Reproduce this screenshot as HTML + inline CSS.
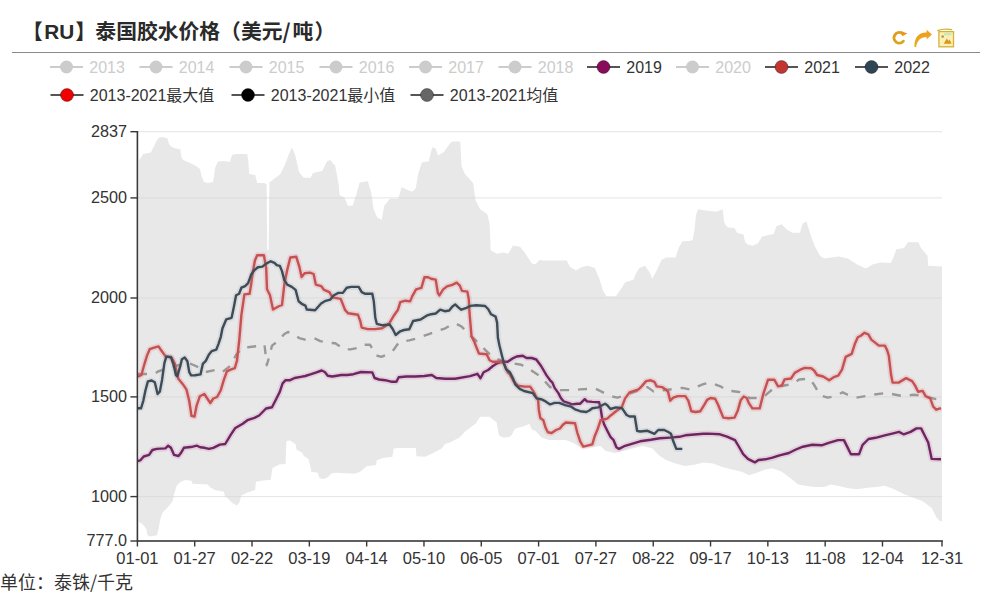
<!DOCTYPE html>
<html><head><meta charset="utf-8"><title>泰国胶水价格</title>
<style>
html,body{margin:0;padding:0;background:#fff;}
body{width:993px;height:598px;overflow:hidden;position:relative;font-family:"Liberation Sans","Noto Sans CJK SC",sans-serif;}
svg{position:absolute;left:0;top:0;}
svg text{font-family:"Liberation Sans","Noto Sans CJK SC",sans-serif;}
</style></head><body>
<svg width="993" height="598" viewBox="0 0 993 598">

<text x="22" y="39" font-size="20.8" font-weight="bold" fill="#2a2a2a">【<tspan dx="1.4">R</tspan>U<tspan dx="1">】</tspan><tspan dx="-0.7">泰国胶水价格（美元</tspan><tspan font-family="&quot;Noto Sans CJK SC&quot;, sans-serif">/</tspan><tspan dx="2">吨</tspan><tspan dx="1">）</tspan></text>
<rect x="12" y="52" width="968" height="1" fill="#8a8a8a"/>

<defs>
<linearGradient id="gA" x1="0" y1="0" x2="0" y2="1"><stop offset="0" stop-color="#f39a1c"/><stop offset="1" stop-color="#e2b021"/></linearGradient>
<linearGradient id="gC" x1="0" y1="0" x2="1" y2="1"><stop offset="0" stop-color="#e39a1a"/><stop offset="1" stop-color="#d7a81c"/></linearGradient>
</defs>
<path d="M901.9,33.2 A5.3,5.3 0 1 0 903.4,41.2" fill="none" stroke="url(#gC)" stroke-width="2.9" stroke-linecap="round"/>
<path d="M901,30.9 L907.4,33.4 L902.2,36.2 Z" fill="#e9961c"/>
<path d="M914.4,46.8 C914.3,38.5 917.5,32.6 926.6,32.5 L926.6,29.8 L931.9,34.6 L926.6,39.4 L926.6,36.9 C920.6,36.9 917.2,40.2 916.1,47.2 Z" fill="url(#gA)"/>
<path d="M937.2,30.6 Q944,28.2 952.2,29.6" fill="none" stroke="#d2b43a" stroke-width="1.4"/>
<rect x="938.9" y="31.6" width="14.6" height="15.2" fill="#fcf0b6" stroke="#d4b23a" stroke-width="1.3"/>
<rect x="944" y="32.8" width="7.4" height="2.6" fill="#cfe6b8"/>
<path d="M943.8,43.8 L946.8,38.6 L948.5,41 L949.6,39.6 L951.6,43.8 Z" fill="#d8961a"/>
<circle cx="942.7" cy="36.6" r="1.3" fill="#b99a3c"/>

<rect x="50" y="66" width="33" height="2" fill="#ccc"/><circle cx="66.5" cy="67" r="6.5" fill="#ccc"/><text x="89.3" y="73.1" font-size="16" fill="#ccc">2013</text>
<rect x="139.5" y="66" width="33" height="2" fill="#ccc"/><circle cx="156.0" cy="67" r="6.5" fill="#ccc"/><text x="178.8" y="73.1" font-size="16" fill="#ccc">2014</text>
<rect x="229.5" y="66" width="33" height="2" fill="#ccc"/><circle cx="246.0" cy="67" r="6.5" fill="#ccc"/><text x="268.8" y="73.1" font-size="16" fill="#ccc">2015</text>
<rect x="319.5" y="66" width="33" height="2" fill="#ccc"/><circle cx="336.0" cy="67" r="6.5" fill="#ccc"/><text x="358.8" y="73.1" font-size="16" fill="#ccc">2016</text>
<rect x="409" y="66" width="33" height="2" fill="#ccc"/><circle cx="425.5" cy="67" r="6.5" fill="#ccc"/><text x="448.3" y="73.1" font-size="16" fill="#ccc">2017</text>
<rect x="498.5" y="66" width="33" height="2" fill="#ccc"/><circle cx="515.0" cy="67" r="6.5" fill="#ccc"/><text x="537.8" y="73.1" font-size="16" fill="#ccc">2018</text>
<rect x="587" y="66" width="33" height="2" fill="#555"/><circle cx="603.5" cy="67" r="6.5" fill="#8a0a5c" stroke="rgba(0,0,0,0.35)" stroke-width="1"/><text x="626.3" y="73.1" font-size="16" fill="#333">2019</text>
<rect x="676" y="66" width="33" height="2" fill="#ccc"/><circle cx="692.5" cy="67" r="6.5" fill="#ccc"/><text x="715.3" y="73.1" font-size="16" fill="#ccc">2020</text>
<rect x="765" y="66" width="33" height="2" fill="#555"/><circle cx="781.5" cy="67" r="6.5" fill="#c23531" stroke="rgba(0,0,0,0.35)" stroke-width="1"/><text x="804.3" y="73.1" font-size="16" fill="#333">2021</text>
<rect x="855" y="66" width="33" height="2" fill="#555"/><circle cx="871.5" cy="67" r="6.5" fill="#2f4554" stroke="rgba(0,0,0,0.35)" stroke-width="1"/><text x="894.3" y="73.1" font-size="16" fill="#333">2022</text>
<rect x="50.5" y="94" width="33" height="2" fill="#555"/><circle cx="67.0" cy="95" r="6.5" fill="#f00000" stroke="rgba(0,0,0,0.35)" stroke-width="1"/><text x="89.8" y="101.1" font-size="16" fill="#333">2013-2021最大值</text>
<rect x="231.5" y="94" width="33" height="2" fill="#555"/><circle cx="248.0" cy="95" r="6.5" fill="#000" stroke="rgba(0,0,0,0.35)" stroke-width="1"/><text x="270.8" y="101.1" font-size="16" fill="#333">2013-2021最小值</text>
<rect x="410.5" y="94" width="33" height="2" fill="#555"/><circle cx="427.0" cy="95" r="6.5" fill="#666" stroke="rgba(0,0,0,0.35)" stroke-width="1"/><text x="449.8" y="101.1" font-size="16" fill="#333">2013-2021均值</text>
<polygon points="138.8,160.5 141.5,157.0 143.0,154.0 151.0,152.5 153.0,148.0 156.0,142.0 159.0,137.5 163.0,137.0 167.5,138.5 169.0,144.0 172.0,147.0 176.0,148.4 180.2,149.2 181.5,157.0 183.0,160.0 190.0,163.0 196.0,166.0 200.0,169.0 201.6,176.0 204.0,182.0 208.0,183.0 213.0,182.0 214.0,177.0 215.0,168.0 218.0,161.6 224.0,161.0 230.0,162.0 232.0,155.0 236.0,154.0 247.2,154.0 248.2,160.0 249.2,174.0 255.2,175.0 256.2,179.0 257.2,183.0 264.3,183.0 266.0,184.0 266.6,184.0 267.2,250.0 268.6,250.0 269.4,182.5 275.5,177.7 280.2,174.2 284.9,164.8 288.4,155.4 291.9,147.2 295.4,155.4 298.9,171.8 303.6,177.7 310.6,177.7 313.0,173.0 322.4,170.7 327.0,161.3 330.5,160.1 334.0,164.8 335.0,164.8 338.5,183.5 339.7,195.3 344.4,197.6 347.9,205.8 352.6,205.8 356.1,195.3 359.6,182.4 367.8,181.2 371.3,192.9 373.6,209.3 377.2,217.5 381.8,219.8 384.2,205.8 390.0,198.8 398.2,198.8 401.7,187.1 406.4,189.4 412.3,191.7 415.8,188.2 418.1,174.2 421.7,162.5 428.7,161.3 432.2,147.2 435.7,148.4 438.0,155.4 443.9,151.9 449.8,143.7 452.1,141.4 460.3,141.4 461.5,166.0 465.0,174.2 469.7,178.9 473.2,183.5 475.5,199.9 480.2,209.3 487.2,214.0 489.6,223.4 490.7,250.3 496.6,253.8 503.6,252.6 508.3,253.8 513.0,245.6 520.0,246.8 524.7,252.6 531.7,263.2 535.0,264.6 539.7,259.9 544.4,260.4 566.6,260.4 570.1,267.0 576.0,270.5 581.8,267.0 587.7,265.8 594.7,268.1 599.4,278.7 602.9,290.4 606.4,296.2 615.8,296.2 621.7,288.0 625.2,282.2 633.4,279.8 635.7,274.0 639.2,268.1 645.0,265.8 649.8,272.8 652.1,278.7 655.6,272.8 661.5,259.9 666.1,257.6 675.5,257.6 679.0,247.1 682.5,241.2 689.6,241.0 692.6,240.0 694.5,230.0 695.9,215.7 697.9,209.2 705.7,210.5 716.2,211.8 722.7,209.2 724.0,220.9 725.3,224.9 728.0,227.5 734.5,228.1 737.1,232.7 743.7,234.7 745.0,241.9 747.6,244.5 752.8,245.8 758.1,243.2 762.0,236.6 773.8,234.0 776.4,226.2 781.6,224.2 786.9,229.5 792.1,232.7 800.0,232.7 802.6,223.6 806.5,221.6 809.1,230.1 811.7,238.0 815.0,246.8 820.2,256.0 824.2,258.6 838.6,256.6 847.7,258.6 858.2,265.1 866.0,268.4 872.6,264.5 880.4,262.5 890.9,263.1 893.5,257.3 896.2,249.4 904.0,248.1 908.0,242.2 918.4,242.2 921.0,248.1 927.6,256.0 928.2,265.8 942.0,266.4 942.0,521.5 939.9,520.9 936.4,517.4 931.7,508.0 922.3,501.0 912.9,497.5 903.6,494.0 894.2,489.3 884.8,485.8 875.5,487.0 866.1,488.1 856.7,489.3 847.4,488.1 838.0,485.8 831.0,484.6 824.0,487.0 814.6,487.0 805.2,485.8 798.2,484.6 791.2,478.8 781.8,471.7 772.5,468.2 765.4,469.4 756.1,472.9 749.0,475.2 742.0,471.7 731.7,469.4 722.4,467.1 713.0,463.5 703.6,462.4 694.3,464.7 684.9,465.9 675.5,463.5 666.1,460.0 659.1,455.4 652.1,448.3 642.7,446.0 633.4,448.3 624.0,450.7 614.6,453.0 605.3,450.7 600.6,446.0 591.2,447.2 581.8,448.3 572.5,442.5 565.4,440.1 549.0,440.1 542.0,437.8 535.0,430.8 531.7,429.6 529.4,423.7 524.7,426.1 515.3,428.4 510.6,436.6 503.6,437.8 498.9,435.4 496.6,422.6 489.6,416.7 480.2,416.7 475.5,423.7 466.1,430.8 459.1,437.8 449.8,442.5 445.0,443.9 441.6,448.6 431.1,453.9 425.2,456.8 416.4,456.2 415.9,448.0 398.3,448.0 393.6,448.6 392.5,456.8 383.1,458.0 376.7,460.3 376.1,465.0 366.7,466.2 359.7,472.0 355.4,473.6 351.7,473.6 335.2,472.7 331.5,473.6 327.8,477.3 324.1,479.1 319.5,478.2 317.7,472.7 311.3,471.8 310.3,466.3 308.5,458.9 303.9,456.1 302.0,452.5 296.6,449.7 295.6,444.2 290.0,440.5 286.4,441.0 285.5,464.0 282.5,464.2 279.9,464.2 276.2,466.0 272.5,467.9 270.7,479.8 261.5,480.7 256.0,481.7 255.1,489.9 246.8,492.7 241.3,495.5 239.4,502.8 236.7,505.6 232.1,502.8 224.7,495.5 223.8,491.8 215.0,490.1 210.2,487.6 207.7,484.4 192.7,483.8 191.4,480.7 185.2,480.0 180.1,481.9 176.4,486.3 173.9,495.1 172.6,501.3 167.6,507.6 162.6,512.6 160.0,520.2 158.8,527.7 157.0,535.2 150.0,536.5 147.5,535.2 146.3,528.9 142.5,523.9 140.0,522.7 138.8,521.0" fill="#e8e8e8"/>
<rect x="137.4" y="131.20" width="804.6" height="1" fill="rgba(212,212,212,0.62)"/>
<rect x="137.4" y="197.40" width="804.6" height="1" fill="rgba(212,212,212,0.62)"/>
<rect x="137.4" y="297.50" width="804.6" height="1" fill="rgba(212,212,212,0.62)"/>
<rect x="137.4" y="396.40" width="804.6" height="1" fill="rgba(212,212,212,0.62)"/>
<rect x="137.4" y="496.10" width="804.6" height="1" fill="rgba(212,212,212,0.62)"/>
<polyline points="138.0,374.0 150.0,374.0 154.6,373.7 158.0,371.5 165.0,369.0 175.0,366.0 189.0,363.0 200.0,368.0 205.8,372.0 215.4,370.0 221.8,372.5 230.0,366.0 236.0,355.0 242.3,348.0 249.8,347.0 259.0,346.0 264.5,344.8 266.8,365.2 269.0,357.6 272.0,345.6 278.1,341.1 284.1,334.3 287.9,332.0 292.4,333.6 299.2,338.1 305.2,339.6 314.2,338.1 320.2,341.1 327.8,342.6 335.3,343.3 344.3,349.4 350.4,349.4 357.9,347.9 362.5,344.8 370.1,344.8 376.1,355.4 381.4,356.9 385.1,355.4 393.4,350.1 398.7,342.6 409.2,340.3 415.2,338.8 430.3,333.6 445.4,328.3 451.4,324.5 455.2,323.3 461.3,326.3 465.8,330.8 468.8,333.8 476.0,340.7 492.6,357.2 505.0,362.0 521.2,364.8 527.2,367.8 540.8,376.8 550.1,387.1 559.2,390.1 574.2,390.1 580.2,389.4 595.3,388.6 610.4,396.1 617.5,397.7 647.6,387.1 653.7,391.6 682.3,387.9 689.8,389.4 703.4,384.1 710.0,382.6 721.1,386.7 727.1,390.5 739.2,392.0 743.7,394.2 749.7,398.0 757.2,398.0 763.3,397.2 775.0,387.0 792.8,384.0 799.0,379.5 809.6,378.7 814.1,384.8 820.1,395.3 827.7,397.6 835.2,396.1 842.7,392.3 847.2,394.5 856.3,397.6 865.3,396.1 874.3,394.5 886.4,393.0 895.6,394.7 903.1,396.2 913.6,394.7 924.1,396.2 936.2,399.2 941.0,400.0" fill="none" stroke="#999" stroke-width="2.4" stroke-dasharray="9 9" stroke-linejoin="round"/>
<polyline points="137.3,461.0 140.4,460.3 143.7,456.5 149.1,454.9 152.4,450.0 156.7,448.9 165.4,448.4 168.2,445.7 170.9,447.8 174.1,454.9 178.5,456.0 180.7,453.3 183.9,447.8 192.6,446.7 197.0,445.7 200.2,447.3 204.6,447.8 208.9,448.9 213.3,447.8 219.8,444.6 225.2,444.0 230.7,434.8 235.0,428.3 242.7,423.7 247.4,420.2 254.4,417.9 259.1,415.5 262.6,412.0 266.0,408.5 272.0,407.3 276.6,398.3 279.6,392.3 282.6,383.3 285.6,380.2 290.1,380.2 294.6,378.0 300.7,376.9 305.2,376.0 311.2,374.2 315.7,372.7 321.7,370.5 324.8,372.0 327.8,375.7 332.3,376.5 336.8,375.7 341.3,375.0 347.3,375.0 353.4,374.2 361.0,372.0 372.3,372.4 374.6,378.0 379.1,379.5 385.1,380.2 391.1,381.7 396.4,381.7 398.7,377.2 406.2,376.5 415.2,376.5 424.3,376.0 431.8,375.0 436.3,378.0 445.4,378.7 455.0,378.7 470.0,376.1 477.5,373.8 480.5,378.3 483.6,372.3 488.1,370.0 492.6,366.3 497.1,363.3 501.6,361.7 507.7,361.7 512.2,358.7 516.7,356.5 522.7,355.7 526.5,358.0 531.7,358.0 536.3,359.5 541.1,366.0 546.4,375.1 550.1,380.3 552.4,382.6 554.6,387.9 558.4,393.1 560.7,397.7 563.7,401.4 568.2,402.9 572.0,404.4 577.2,403.7 580.2,403.7 582.5,401.4 584.8,399.2 587.0,401.4 592.3,401.9 599.1,402.2 600.6,408.2 602.1,418.0 604.3,424.8 607.3,430.8 610.4,436.8 613.4,439.8 616.4,447.3 619.0,448.9 625.1,445.8 632.6,443.6 640.1,441.3 650.7,439.8 659.7,438.3 670.2,437.6 679.3,436.8 685.3,435.3 694.3,434.5 703.4,433.8 708.3,433.6 720.0,434.3 727.0,436.6 735.0,440.1 738.5,446.0 743.2,454.2 747.9,458.9 754.9,462.4 758.4,460.0 765.4,459.3 772.5,457.7 779.5,455.3 788.9,453.0 795.9,449.5 802.9,446.7 812.3,444.8 821.6,445.3 828.7,442.9 838.0,440.1 843.9,440.1 847.4,447.1 850.9,454.2 859.1,454.2 862.6,444.8 868.5,439.0 875.5,437.8 884.8,435.4 894.2,433.1 898.9,431.9 903.6,434.3 910.6,431.9 916.5,428.4 921.1,428.4 925.8,437.8 928.2,442.5 931.7,458.9 941.0,459.3" fill="none" stroke="rgba(200,80,160,0.16)" stroke-width="6" stroke-linejoin="round"/>
<polyline points="137.3,461.0 140.4,460.3 143.7,456.5 149.1,454.9 152.4,450.0 156.7,448.9 165.4,448.4 168.2,445.7 170.9,447.8 174.1,454.9 178.5,456.0 180.7,453.3 183.9,447.8 192.6,446.7 197.0,445.7 200.2,447.3 204.6,447.8 208.9,448.9 213.3,447.8 219.8,444.6 225.2,444.0 230.7,434.8 235.0,428.3 242.7,423.7 247.4,420.2 254.4,417.9 259.1,415.5 262.6,412.0 266.0,408.5 272.0,407.3 276.6,398.3 279.6,392.3 282.6,383.3 285.6,380.2 290.1,380.2 294.6,378.0 300.7,376.9 305.2,376.0 311.2,374.2 315.7,372.7 321.7,370.5 324.8,372.0 327.8,375.7 332.3,376.5 336.8,375.7 341.3,375.0 347.3,375.0 353.4,374.2 361.0,372.0 372.3,372.4 374.6,378.0 379.1,379.5 385.1,380.2 391.1,381.7 396.4,381.7 398.7,377.2 406.2,376.5 415.2,376.5 424.3,376.0 431.8,375.0 436.3,378.0 445.4,378.7 455.0,378.7 470.0,376.1 477.5,373.8 480.5,378.3 483.6,372.3 488.1,370.0 492.6,366.3 497.1,363.3 501.6,361.7 507.7,361.7 512.2,358.7 516.7,356.5 522.7,355.7 526.5,358.0 531.7,358.0 536.3,359.5 541.1,366.0 546.4,375.1 550.1,380.3 552.4,382.6 554.6,387.9 558.4,393.1 560.7,397.7 563.7,401.4 568.2,402.9 572.0,404.4 577.2,403.7 580.2,403.7 582.5,401.4 584.8,399.2 587.0,401.4 592.3,401.9 599.1,402.2 600.6,408.2 602.1,418.0 604.3,424.8 607.3,430.8 610.4,436.8 613.4,439.8 616.4,447.3 619.0,448.9 625.1,445.8 632.6,443.6 640.1,441.3 650.7,439.8 659.7,438.3 670.2,437.6 679.3,436.8 685.3,435.3 694.3,434.5 703.4,433.8 708.3,433.6 720.0,434.3 727.0,436.6 735.0,440.1 738.5,446.0 743.2,454.2 747.9,458.9 754.9,462.4 758.4,460.0 765.4,459.3 772.5,457.7 779.5,455.3 788.9,453.0 795.9,449.5 802.9,446.7 812.3,444.8 821.6,445.3 828.7,442.9 838.0,440.1 843.9,440.1 847.4,447.1 850.9,454.2 859.1,454.2 862.6,444.8 868.5,439.0 875.5,437.8 884.8,435.4 894.2,433.1 898.9,431.9 903.6,434.3 910.6,431.9 916.5,428.4 921.1,428.4 925.8,437.8 928.2,442.5 931.7,458.9 941.0,459.3" fill="none" stroke="#6e2660" stroke-width="2.4" stroke-linejoin="round"/>
<polyline points="138.0,376.7 141.4,375.0 144.2,364.8 147.0,355.6 149.7,349.2 153.4,347.8 158.5,346.4 161.7,351.0 165.4,356.1 171.8,357.9 174.6,363.0 178.2,378.6 182.8,384.2 186.5,389.7 189.2,400.8 191.5,415.8 194.5,416.6 196.7,405.3 199.8,396.3 204.3,394.0 207.3,398.5 210.3,403.0 213.3,398.5 217.1,397.0 220.8,390.2 223.9,379.7 226.9,371.4 229.9,369.9 234.8,368.2 237.0,360.7 239.3,339.6 241.4,314.8 244.4,294.4 249.6,293.7 251.1,284.6 252.7,272.6 254.9,260.5 257.2,255.3 263.9,255.3 266.2,268.1 267.0,289.2 270.0,295.2 273.0,309.5 278.3,306.5 282.0,305.0 284.3,284.6 287.3,269.6 290.3,257.5 296.3,256.8 299.3,266.6 301.6,277.1 304.6,273.3 309.9,272.6 313.6,274.0 315.8,284.6 321.1,286.1 324.1,289.9 329.4,292.2 332.4,297.4 340.7,298.9 345.2,310.2 348.2,313.3 358.0,314.8 360.2,320.8 361.7,327.6 367.8,329.1 375.3,329.1 382.1,328.3 388.9,323.8 393.4,316.3 398.0,309.7 400.3,302.2 405.5,300.7 410.1,301.4 412.3,296.1 416.1,289.4 421.4,287.9 424.4,277.3 428.1,277.3 431.1,278.8 435.7,279.6 437.9,293.1 439.4,295.4 443.2,289.4 447.0,286.4 452.2,284.8 456.7,282.6 459.8,285.6 462.0,290.9 467.3,291.6 468.8,299.2 469.5,312.7 471.5,336.1 474.5,342.2 476.8,348.2 479.0,353.5 486.6,354.2 489.6,360.2 492.6,361.7 500.1,361.7 503.9,363.3 507.7,372.3 509.9,374.5 513.7,381.3 518.2,385.8 524.2,386.6 530.2,386.6 533.6,391.6 535.8,396.1 538.1,399.9 538.8,409.7 540.3,418.0 543.3,420.2 545.6,427.8 547.9,432.3 551.6,433.0 556.1,430.0 559.9,428.5 562.9,424.8 565.9,422.5 575.0,423.3 577.2,432.3 580.2,441.3 583.3,446.6 592.3,444.3 594.5,436.8 597.6,429.3 600.6,420.2 603.6,419.5 607.3,418.7 610.4,415.7 616.0,411.2 622.0,406.7 625.1,398.4 629.6,392.4 634.1,390.9 638.6,389.4 641.6,386.4 646.1,381.1 650.7,380.3 654.4,381.8 656.7,386.4 662.0,387.1 665.7,389.4 668.0,391.6 670.2,400.7 673.3,397.7 677.8,396.1 685.3,396.1 688.3,400.7 691.3,411.2 695.8,412.0 700.4,411.2 704.1,405.2 707.1,399.9 710.5,398.0 715.1,398.7 718.1,404.8 721.1,412.3 723.3,417.6 728.6,418.3 734.6,417.6 737.7,410.8 740.7,400.2 743.7,396.5 746.7,398.0 748.7,402.8 752.4,408.4 759.7,408.4 763.4,393.6 768.0,379.8 774.4,379.8 778.1,386.3 781.8,385.4 784.6,379.4 791.0,378.5 794.7,372.9 800.2,369.7 804.8,367.9 811.2,368.3 814.1,370.5 817.1,375.0 823.1,376.5 829.2,380.2 833.7,377.2 838.2,375.7 842.0,369.7 845.7,356.9 848.7,355.4 851.7,353.9 854.8,344.1 857.8,337.3 860.8,335.8 864.5,332.8 868.3,334.3 871.3,339.6 875.1,342.6 878.9,345.6 884.9,345.6 887.1,350.1 888.8,355.6 891.1,375.1 892.6,382.6 898.6,382.6 906.1,378.1 912.1,381.1 915.1,385.6 918.1,391.7 922.6,390.9 925.6,396.2 930.2,398.4 933.2,406.7 936.2,409.7 941.0,408.2" fill="none" stroke="rgba(230,90,120,0.16)" stroke-width="6" stroke-linejoin="round"/>
<polyline points="138.0,376.7 141.4,375.0 144.2,364.8 147.0,355.6 149.7,349.2 153.4,347.8 158.5,346.4 161.7,351.0 165.4,356.1 171.8,357.9 174.6,363.0 178.2,378.6 182.8,384.2 186.5,389.7 189.2,400.8 191.5,415.8 194.5,416.6 196.7,405.3 199.8,396.3 204.3,394.0 207.3,398.5 210.3,403.0 213.3,398.5 217.1,397.0 220.8,390.2 223.9,379.7 226.9,371.4 229.9,369.9 234.8,368.2 237.0,360.7 239.3,339.6 241.4,314.8 244.4,294.4 249.6,293.7 251.1,284.6 252.7,272.6 254.9,260.5 257.2,255.3 263.9,255.3 266.2,268.1 267.0,289.2 270.0,295.2 273.0,309.5 278.3,306.5 282.0,305.0 284.3,284.6 287.3,269.6 290.3,257.5 296.3,256.8 299.3,266.6 301.6,277.1 304.6,273.3 309.9,272.6 313.6,274.0 315.8,284.6 321.1,286.1 324.1,289.9 329.4,292.2 332.4,297.4 340.7,298.9 345.2,310.2 348.2,313.3 358.0,314.8 360.2,320.8 361.7,327.6 367.8,329.1 375.3,329.1 382.1,328.3 388.9,323.8 393.4,316.3 398.0,309.7 400.3,302.2 405.5,300.7 410.1,301.4 412.3,296.1 416.1,289.4 421.4,287.9 424.4,277.3 428.1,277.3 431.1,278.8 435.7,279.6 437.9,293.1 439.4,295.4 443.2,289.4 447.0,286.4 452.2,284.8 456.7,282.6 459.8,285.6 462.0,290.9 467.3,291.6 468.8,299.2 469.5,312.7 471.5,336.1 474.5,342.2 476.8,348.2 479.0,353.5 486.6,354.2 489.6,360.2 492.6,361.7 500.1,361.7 503.9,363.3 507.7,372.3 509.9,374.5 513.7,381.3 518.2,385.8 524.2,386.6 530.2,386.6 533.6,391.6 535.8,396.1 538.1,399.9 538.8,409.7 540.3,418.0 543.3,420.2 545.6,427.8 547.9,432.3 551.6,433.0 556.1,430.0 559.9,428.5 562.9,424.8 565.9,422.5 575.0,423.3 577.2,432.3 580.2,441.3 583.3,446.6 592.3,444.3 594.5,436.8 597.6,429.3 600.6,420.2 603.6,419.5 607.3,418.7 610.4,415.7 616.0,411.2 622.0,406.7 625.1,398.4 629.6,392.4 634.1,390.9 638.6,389.4 641.6,386.4 646.1,381.1 650.7,380.3 654.4,381.8 656.7,386.4 662.0,387.1 665.7,389.4 668.0,391.6 670.2,400.7 673.3,397.7 677.8,396.1 685.3,396.1 688.3,400.7 691.3,411.2 695.8,412.0 700.4,411.2 704.1,405.2 707.1,399.9 710.5,398.0 715.1,398.7 718.1,404.8 721.1,412.3 723.3,417.6 728.6,418.3 734.6,417.6 737.7,410.8 740.7,400.2 743.7,396.5 746.7,398.0 748.7,402.8 752.4,408.4 759.7,408.4 763.4,393.6 768.0,379.8 774.4,379.8 778.1,386.3 781.8,385.4 784.6,379.4 791.0,378.5 794.7,372.9 800.2,369.7 804.8,367.9 811.2,368.3 814.1,370.5 817.1,375.0 823.1,376.5 829.2,380.2 833.7,377.2 838.2,375.7 842.0,369.7 845.7,356.9 848.7,355.4 851.7,353.9 854.8,344.1 857.8,337.3 860.8,335.8 864.5,332.8 868.3,334.3 871.3,339.6 875.1,342.6 878.9,345.6 884.9,345.6 887.1,350.1 888.8,355.6 891.1,375.1 892.6,382.6 898.6,382.6 906.1,378.1 912.1,381.1 915.1,385.6 918.1,391.7 922.6,390.9 925.6,396.2 930.2,398.4 933.2,406.7 936.2,409.7 941.0,408.2" fill="none" stroke="#c6524f" stroke-width="2.4" stroke-linejoin="round"/>
<polyline points="137.3,408.3 141.0,408.3 143.3,400.8 145.5,390.2 147.9,381.4 151.6,380.5 154.8,382.3 157.6,394.0 159.8,391.7 162.1,379.7 164.4,363.1 166.3,356.6 170.9,357.0 173.6,364.8 175.9,375.0 177.3,376.3 180.1,366.7 181.9,359.3 184.7,357.5 187.4,361.2 189.3,372.2 191.1,375.4 195.2,375.2 200.5,374.4 202.8,363.9 205.8,360.9 208.8,354.8 211.8,351.1 216.3,349.6 218.6,343.6 220.8,336.8 222.5,328.3 226.3,319.3 231.6,317.8 233.8,307.2 236.1,295.2 239.1,293.7 241.4,287.7 245.1,286.1 248.1,283.1 251.1,274.8 254.2,270.3 257.9,267.3 262.4,266.6 266.2,263.6 270.7,261.3 274.5,262.8 276.7,265.1 279.8,265.8 282.0,271.1 284.3,280.1 287.3,284.6 291.8,286.9 295.6,289.9 298.6,301.2 302.3,304.2 305.4,305.7 306.8,309.5 315.1,310.2 321.1,303.5 324.8,301.2 330.1,299.7 333.9,295.2 338.4,292.9 342.9,292.9 346.7,287.7 351.2,286.9 358.7,286.9 361.7,292.2 364.8,293.7 372.3,293.7 373.8,301.2 375.3,317.8 376.8,323.8 382.8,325.3 389.6,324.5 392.7,329.0 395.7,335.0 400.2,331.3 404.0,330.0 409.3,329.3 413.1,321.0 420.6,319.5 426.6,315.7 431.1,314.2 435.7,313.5 440.2,309.7 444.7,311.2 449.2,310.5 452.2,306.7 455.2,304.4 458.3,307.4 461.3,309.7 465.8,308.2 470.3,305.9 476.3,305.2 485.1,306.0 488.1,309.0 491.1,314.3 495.6,316.6 497.1,322.6 497.9,337.7 499.4,345.2 501.6,354.2 503.9,363.3 506.1,369.3 509.9,372.3 512.9,378.3 515.2,384.3 519.7,388.9 524.0,391.0 532.8,393.1 536.6,398.4 541.1,399.2 545.6,401.4 550.1,404.4 554.6,402.9 559.2,402.9 565.2,405.2 571.2,406.7 575.7,409.7 580.2,411.2 586.3,412.0 589.3,410.5 592.3,408.2 598.3,407.4 602.1,405.2 605.1,403.7 607.3,405.2 610.4,409.0 616.0,407.4 622.0,408.2 626.6,415.0 629.6,416.5 634.8,416.5 637.1,430.8 640.1,431.5 647.6,430.8 654.4,433.8 658.2,430.0 664.2,430.0 668.7,432.3 671.0,433.8 673.3,441.3 676.3,448.9 682.3,448.9" fill="none" stroke="rgba(120,140,170,0.14)" stroke-width="6" stroke-linejoin="round"/>
<polyline points="137.3,408.3 141.0,408.3 143.3,400.8 145.5,390.2 147.9,381.4 151.6,380.5 154.8,382.3 157.6,394.0 159.8,391.7 162.1,379.7 164.4,363.1 166.3,356.6 170.9,357.0 173.6,364.8 175.9,375.0 177.3,376.3 180.1,366.7 181.9,359.3 184.7,357.5 187.4,361.2 189.3,372.2 191.1,375.4 195.2,375.2 200.5,374.4 202.8,363.9 205.8,360.9 208.8,354.8 211.8,351.1 216.3,349.6 218.6,343.6 220.8,336.8 222.5,328.3 226.3,319.3 231.6,317.8 233.8,307.2 236.1,295.2 239.1,293.7 241.4,287.7 245.1,286.1 248.1,283.1 251.1,274.8 254.2,270.3 257.9,267.3 262.4,266.6 266.2,263.6 270.7,261.3 274.5,262.8 276.7,265.1 279.8,265.8 282.0,271.1 284.3,280.1 287.3,284.6 291.8,286.9 295.6,289.9 298.6,301.2 302.3,304.2 305.4,305.7 306.8,309.5 315.1,310.2 321.1,303.5 324.8,301.2 330.1,299.7 333.9,295.2 338.4,292.9 342.9,292.9 346.7,287.7 351.2,286.9 358.7,286.9 361.7,292.2 364.8,293.7 372.3,293.7 373.8,301.2 375.3,317.8 376.8,323.8 382.8,325.3 389.6,324.5 392.7,329.0 395.7,335.0 400.2,331.3 404.0,330.0 409.3,329.3 413.1,321.0 420.6,319.5 426.6,315.7 431.1,314.2 435.7,313.5 440.2,309.7 444.7,311.2 449.2,310.5 452.2,306.7 455.2,304.4 458.3,307.4 461.3,309.7 465.8,308.2 470.3,305.9 476.3,305.2 485.1,306.0 488.1,309.0 491.1,314.3 495.6,316.6 497.1,322.6 497.9,337.7 499.4,345.2 501.6,354.2 503.9,363.3 506.1,369.3 509.9,372.3 512.9,378.3 515.2,384.3 519.7,388.9 524.0,391.0 532.8,393.1 536.6,398.4 541.1,399.2 545.6,401.4 550.1,404.4 554.6,402.9 559.2,402.9 565.2,405.2 571.2,406.7 575.7,409.7 580.2,411.2 586.3,412.0 589.3,410.5 592.3,408.2 598.3,407.4 602.1,405.2 605.1,403.7 607.3,405.2 610.4,409.0 616.0,407.4 622.0,408.2 626.6,415.0 629.6,416.5 634.8,416.5 637.1,430.8 640.1,431.5 647.6,430.8 654.4,433.8 658.2,430.0 664.2,430.0 668.7,432.3 671.0,433.8 673.3,441.3 676.3,448.9 682.3,448.9" fill="none" stroke="#3f4c55" stroke-width="2.4" stroke-linejoin="round"/>
<rect x="136.6" y="131" width="1.6" height="410.8" fill="#383838"/>
<rect x="137.4" y="540.2" width="805.4" height="1.6" fill="#383838"/>
<rect x="130.4" y="131.00" width="7" height="1.4" fill="#383838"/>
<text x="127" y="137.00" font-size="16.2" fill="#333" text-anchor="end">2837</text>
<rect x="130.4" y="197.20" width="7" height="1.4" fill="#383838"/>
<text x="127" y="203.20" font-size="16.2" fill="#333" text-anchor="end">2500</text>
<rect x="130.4" y="297.30" width="7" height="1.4" fill="#383838"/>
<text x="127" y="303.30" font-size="16.2" fill="#333" text-anchor="end">2000</text>
<rect x="130.4" y="396.20" width="7" height="1.4" fill="#383838"/>
<text x="127" y="402.20" font-size="16.2" fill="#333" text-anchor="end">1500</text>
<rect x="130.4" y="495.90" width="7" height="1.4" fill="#383838"/>
<text x="127" y="501.90" font-size="16.2" fill="#333" text-anchor="end">1000</text>
<rect x="130.4" y="540.30" width="7" height="1.4" fill="#383838"/>
<text x="127" y="546.30" font-size="16.2" fill="#333" text-anchor="end">777.0</text>
<rect x="136.70" y="541.0" width="1.4" height="5.5" fill="#383838"/>
<text x="137.40" y="564" font-size="16.5" fill="#333" text-anchor="middle">01-01</text>
<rect x="194.01" y="541.0" width="1.4" height="5.5" fill="#383838"/>
<text x="194.71" y="564" font-size="16.5" fill="#333" text-anchor="middle">01-27</text>
<rect x="251.33" y="541.0" width="1.4" height="5.5" fill="#383838"/>
<text x="252.03" y="564" font-size="16.5" fill="#333" text-anchor="middle">02-22</text>
<rect x="308.64" y="541.0" width="1.4" height="5.5" fill="#383838"/>
<text x="309.34" y="564" font-size="16.5" fill="#333" text-anchor="middle">03-19</text>
<rect x="365.96" y="541.0" width="1.4" height="5.5" fill="#383838"/>
<text x="366.66" y="564" font-size="16.5" fill="#333" text-anchor="middle">04-14</text>
<rect x="423.27" y="541.0" width="1.4" height="5.5" fill="#383838"/>
<text x="423.97" y="564" font-size="16.5" fill="#333" text-anchor="middle">05-10</text>
<rect x="480.58" y="541.0" width="1.4" height="5.5" fill="#383838"/>
<text x="481.28" y="564" font-size="16.5" fill="#333" text-anchor="middle">06-05</text>
<rect x="537.90" y="541.0" width="1.4" height="5.5" fill="#383838"/>
<text x="538.60" y="564" font-size="16.5" fill="#333" text-anchor="middle">07-01</text>
<rect x="595.21" y="541.0" width="1.4" height="5.5" fill="#383838"/>
<text x="595.91" y="564" font-size="16.5" fill="#333" text-anchor="middle">07-27</text>
<rect x="652.53" y="541.0" width="1.4" height="5.5" fill="#383838"/>
<text x="653.23" y="564" font-size="16.5" fill="#333" text-anchor="middle">08-22</text>
<rect x="709.84" y="541.0" width="1.4" height="5.5" fill="#383838"/>
<text x="710.54" y="564" font-size="16.5" fill="#333" text-anchor="middle">09-17</text>
<rect x="767.15" y="541.0" width="1.4" height="5.5" fill="#383838"/>
<text x="767.85" y="564" font-size="16.5" fill="#333" text-anchor="middle">10-13</text>
<rect x="824.47" y="541.0" width="1.4" height="5.5" fill="#383838"/>
<text x="825.17" y="564" font-size="16.5" fill="#333" text-anchor="middle">11-08</text>
<rect x="881.78" y="541.0" width="1.4" height="5.5" fill="#383838"/>
<text x="882.48" y="564" font-size="16.5" fill="#333" text-anchor="middle">12-04</text>
<rect x="941.30" y="541.0" width="1.4" height="5.5" fill="#383838"/>
<text x="942.00" y="564" font-size="16.5" fill="#333" text-anchor="middle">12-31</text>
<text x="0" y="589" font-size="18" fill="#333">单位：泰铢<tspan font-family="&quot;Noto Sans CJK SC&quot;, sans-serif">/</tspan>千克</text>
</svg></body></html>
